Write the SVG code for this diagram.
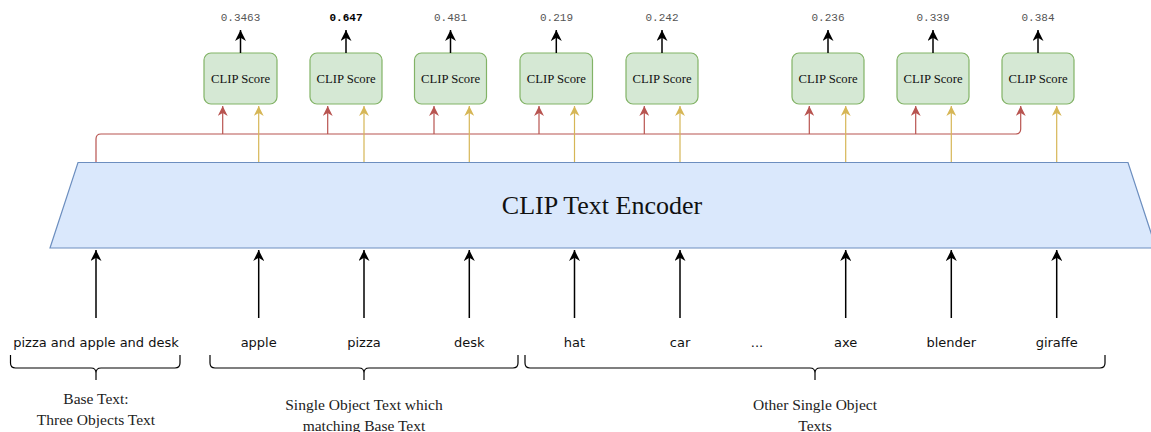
<svg xmlns="http://www.w3.org/2000/svg" width="1151" height="432" viewBox="0 0 1151 432">
<style>
.box{fill:#d5e8d4;stroke:#82b366;stroke-width:1.2}
.bt{font-family:"Liberation Serif",serif;font-size:12.7px;fill:#111;text-anchor:middle}
.num{font-family:"Liberation Mono",monospace;font-size:11px;fill:#555;text-anchor:middle}
.lbl{font-family:"DejaVu Sans",sans-serif;font-size:13px;fill:#111;text-anchor:middle}
.cap{font-family:"Liberation Serif",serif;font-size:15.5px;fill:#222;text-anchor:middle}
.blk{stroke:#000;stroke-width:1.5;fill:none}
.red{stroke:#b85450;stroke-width:1.2;fill:none}
.yel{stroke:#d6b656;stroke-width:1.2;fill:none}
.brace{stroke:#000;stroke-width:1.2;fill:none}
</style>
<defs>
<marker id="ab" viewBox="0 0 10 10" refX="10" refY="5" markerWidth="11" markerHeight="11" markerUnits="userSpaceOnUse" orient="auto"><path d="M0,0 L10,5 L0,10 L3,5 Z" fill="#000"/></marker>
<marker id="ar" viewBox="0 0 10 10" refX="10" refY="5" markerWidth="10" markerHeight="10" markerUnits="userSpaceOnUse" orient="auto"><path d="M0,0 L10,5 L0,10 L3,5 Z" fill="#b85450"/></marker>
<marker id="ay" viewBox="0 0 10 10" refX="10" refY="5" markerWidth="10" markerHeight="10" markerUnits="userSpaceOnUse" orient="auto"><path d="M0,0 L10,5 L0,10 L3,5 Z" fill="#d6b656"/></marker>
</defs>
<rect width="1151" height="432" fill="#fff"/>
<g id="encoder">
<path d="M78,162.5 L1128,162.5 L1156,248 L50,248 Z" fill="#dae8fc" stroke="#6c8ebf" stroke-width="1.2"/>
<text x="602" y="214" font-family="Liberation Serif,serif" font-size="26" fill="#111" text-anchor="middle">CLIP Text Encoder</text>
</g>
<g id="scores">
<g id="s1"><rect class="box" x="204" y="53" width="73" height="51" rx="7"/><text class="bt" x="240.5" y="83">CLIP Score</text></g>
<g id="s2"><rect class="box" x="310" y="53" width="72" height="51" rx="7"/><text class="bt" x="346" y="83">CLIP Score</text></g>
<g id="s3"><rect class="box" x="414.5" y="53" width="72" height="51" rx="7"/><text class="bt" x="450.5" y="83">CLIP Score</text></g>
<g id="s4"><rect class="box" x="520" y="53" width="72.5" height="51" rx="7"/><text class="bt" x="556.3" y="83">CLIP Score</text></g>
<g id="s5"><rect class="box" x="626" y="53" width="72" height="51" rx="7"/><text class="bt" x="662" y="83">CLIP Score</text></g>
<g id="s6"><rect class="box" x="792" y="53" width="72" height="51" rx="7"/><text class="bt" x="828" y="83">CLIP Score</text></g>
<g id="s7"><rect class="box" x="897" y="53" width="72" height="51" rx="7"/><text class="bt" x="933" y="83">CLIP Score</text></g>
<g id="s8"><rect class="box" x="1002" y="53" width="72" height="51" rx="7"/><text class="bt" x="1038" y="83">CLIP Score</text></g>
</g>
<g id="values">
<text class="num" x="240.5" y="21">0.3463</text>
<text class="num" x="346" y="21" font-weight="bold" style="fill:#000">0.647</text>
<text class="num" x="450.5" y="21">0.481</text>
<text class="num" x="556.5" y="21">0.219</text>
<text class="num" x="662" y="21">0.242</text>
<text class="num" x="828" y="21">0.236</text>
<text class="num" x="933" y="21">0.339</text>
<text class="num" x="1038" y="21">0.384</text>
</g>
<g id="connectors">
<g marker-end="url(#ab)" class="blk">
<line x1="240.5" y1="53" x2="240.5" y2="30"/>
<line x1="346" y1="53" x2="346" y2="30"/>
<line x1="450.5" y1="53" x2="450.5" y2="30"/>
<line x1="556.3" y1="53" x2="556.3" y2="30"/>
<line x1="662" y1="53" x2="662" y2="30"/>
<line x1="828" y1="53" x2="828" y2="30"/>
<line x1="933" y1="53" x2="933" y2="30"/>
<line x1="1038" y1="53" x2="1038" y2="30"/>
</g>
<path class="red" d="M96,162 L96,139 Q96,134 101,134 L1015.7,134 Q1020.7,134 1020.7,129 L1020.7,106" marker-end="url(#ar)"/>
<g marker-end="url(#ar)" class="red">
<line x1="222.7" y1="134" x2="222.7" y2="106"/>
<line x1="327.7" y1="134" x2="327.7" y2="106"/>
<line x1="434" y1="134" x2="434" y2="106"/>
<line x1="539" y1="134" x2="539" y2="106"/>
<line x1="644.3" y1="134" x2="644.3" y2="106"/>
<line x1="809.3" y1="134" x2="809.3" y2="106"/>
<line x1="915.7" y1="134" x2="915.7" y2="106"/>
</g>
<g marker-end="url(#ay)" class="yel">
<line x1="258.7" y1="162" x2="258.7" y2="106"/>
<line x1="364" y1="162" x2="364" y2="106"/>
<line x1="469.3" y1="162" x2="469.3" y2="106"/>
<line x1="574.5" y1="162" x2="574.5" y2="106"/>
<line x1="680" y1="162" x2="680" y2="106"/>
<line x1="845.7" y1="162" x2="845.7" y2="106"/>
<line x1="951.3" y1="162" x2="951.3" y2="106"/>
<line x1="1056.7" y1="162" x2="1056.7" y2="106"/>
</g>
<g marker-end="url(#ab)" class="blk">
<line x1="96" y1="318" x2="96" y2="250"/>
<line x1="258.7" y1="318" x2="258.7" y2="250"/>
<line x1="364" y1="318" x2="364" y2="250"/>
<line x1="469.3" y1="318" x2="469.3" y2="250"/>
<line x1="574.5" y1="318" x2="574.5" y2="250"/>
<line x1="680" y1="318" x2="680" y2="250"/>
<line x1="845.7" y1="318" x2="845.7" y2="250"/>
<line x1="951.3" y1="318" x2="951.3" y2="250"/>
<line x1="1056.7" y1="318" x2="1056.7" y2="250"/>
</g>
</g>
<g id="labels">
<text class="lbl" x="96" y="347">pizza and apple and desk</text>
<text class="lbl" x="258.7" y="347">apple</text>
<text class="lbl" x="364" y="347">pizza</text>
<text class="lbl" x="469.3" y="347">desk</text>
<text class="lbl" x="574.5" y="347">hat</text>
<text class="lbl" x="680" y="347">car</text>
<text class="lbl" x="757" y="347">...</text>
<text class="lbl" x="845.7" y="347">axe</text>
<text class="lbl" x="951.3" y="347">blender</text>
<text class="lbl" x="1056.7" y="347">giraffe</text>
</g>
<g id="braces">
<path class="brace" d="M10.5,355 L10.5,363 Q10.5,368 15.5,368 L91,368 Q96,368 96,373 L96,380 M96,373 Q96,368 101,368 L175,368 Q180,368 180,363 L180,355"/>
<path class="brace" d="M210,355 L210,363 Q210,368 215,368 L359,368 Q364,368 364,373 L364,380 M364,373 Q364,368 369,368 L513,368 Q518,368 518,363 L518,355"/>
<path class="brace" d="M525,355 L525,363 Q525,368 530,368 L810,368 Q815,368 815,373 L815,380 M815,373 Q815,368 820,368 L1100,368 Q1105,368 1105,363 L1105,355"/>
</g>
<g id="captions">
<text class="cap" x="96" y="404">Base Text:</text>
<text class="cap" x="96" y="425">Three Objects Text</text>
<text class="cap" x="364" y="410">Single Object Text which</text>
<text class="cap" x="364" y="431">matching Base Text</text>
<text class="cap" x="815" y="410">Other Single Object</text>
<text class="cap" x="815" y="431">Texts</text>
</g>
</svg>
